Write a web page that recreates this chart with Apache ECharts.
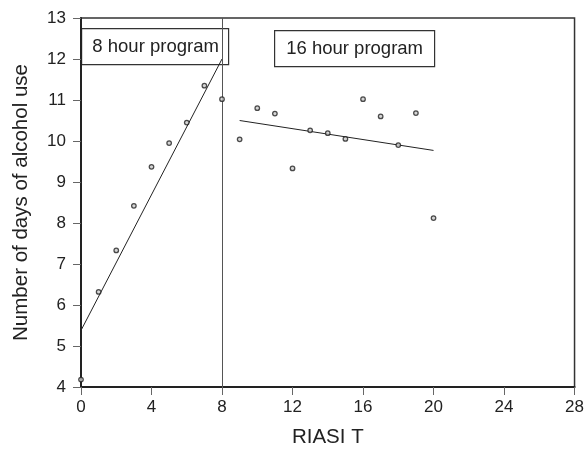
<!DOCTYPE html>
<html>
<head>
<meta charset="utf-8">
<script src="https://cdn.jsdelivr.net/npm/echarts@6/dist/echarts.min.js"></script>
<style>
  html, body { margin: 0; padding: 0; background: #fff; }
  #chart { width: 587px; height: 453px; }
</style>
</head>
<body>
<div id="chart"></div>
<script>
// observed points (x = RIASI T, y = days of alcohol use)
const riasiT = [0, 1, 2, 3, 4, 5, 6, 7, 8, 9, 10, 11, 12, 13, 14, 15, 16, 17, 18, 19, 20]
const alcoholDays = [4.18, 6.32, 7.33, 8.42, 9.37, 9.95, 10.45, 11.35, 11.02, 10.04, 10.8, 10.67, 9.33, 10.26, 10.19, 10.05, 11.02, 10.6, 9.9, 10.68, 8.12]

// fitted segments, endpoints
const fit8 = [[0, 5.38], [8, 12.0]]
const fit16 = [[9, 10.5], [20, 9.77]]
const phaseChange = 8

const xTicks = { min: 0, max: 28, step: 4 }
const yTicks = { min: 4, max: 13, step: 1 }

const chart = echarts.init(document.getElementById('chart'))
const fontFam = 'Liberation Sans, Arial, sans-serif'
const ink = '#222'

chart.setOption({
  animation: false,
  grid: {
    left: 81, right: 9, top: 18, bottom: 60,
    show: true, borderColor: '#333', borderWidth: 1.5
  },
  xAxis: {
    type: 'value',
    min: xTicks.min, max: xTicks.max, interval: xTicks.step,
    name: 'RIASI T',
    nameLocation: 'middle',
    nameGap: 40,
    nameTextStyle: { fontFamily: fontFam, fontSize: 20.5, color: ink },
    axisLine: { lineStyle: { color: ink, width: 2 } },
    axisTick: { length: 8, lineStyle: { color: '#666' } },
    axisLabel: { fontFamily: fontFam, fontSize: 17, color: ink, margin: 12 },
    splitLine: { show: false }
  },
  yAxis: {
    type: 'value',
    min: yTicks.min, max: yTicks.max, interval: yTicks.step,
    name: 'Number of days of alcohol use',
    nameLocation: 'middle',
    nameGap: 49,
    nameTextStyle: { fontFamily: fontFam, fontSize: 20.5, color: ink },
    axisLine: { lineStyle: { color: ink, width: 2 } },
    axisTick: { length: 8, lineStyle: { color: '#666' } },
    axisLabel: { fontFamily: fontFam, fontSize: 17, color: ink, margin: 15 },
    splitLine: { show: false }
  },
  series: [
    {
      type: 'line',
      data: fit8,
      symbol: 'none',
      lineStyle: { color: ink, width: 1 },
      markLine: {
        silent: true,
        symbol: 'none',
        label: { show: false },
        lineStyle: { color: '#555', width: 1, type: 'solid' },
        data: [{ xAxis: phaseChange }]
      }
    },
    {
      type: 'line',
      data: fit16,
      symbol: 'none',
      lineStyle: { color: ink, width: 1 }
    },
    {
      type: 'scatter',
      data: riasiT.map((x, i) => [x, alcoholDays[i]]),
      symbol: 'circle',
      symbolSize: 4.5,
      itemStyle: { color: '#ccc', borderColor: ink, borderWidth: 1.3 },
      z: 5
    }
  ],
  graphic: [
    {
      type: 'group', left: 81, top: 28, z: 100,
      children: [
        { type: 'rect', shape: { x: 0, y: 0, width: 147, height: 36 },
          style: { fill: '#fff', stroke: '#333', lineWidth: 1.2 } },
        { type: 'text', x: 74, y: 18,
          style: { text: '8 hour program', fontFamily: fontFam, fontSize: 18.5, fill: ink, align: 'center', verticalAlign: 'middle' } }
      ]
    },
    {
      type: 'group', left: 274, top: 30, z: 100,
      children: [
        { type: 'rect', shape: { x: 0, y: 0, width: 160, height: 36 },
          style: { fill: '#fff', stroke: '#333', lineWidth: 1.2 } },
        { type: 'text', x: 80, y: 18,
          style: { text: '16 hour program', fontFamily: fontFam, fontSize: 18.5, fill: ink, align: 'center', verticalAlign: 'middle' } }
      ]
    }
  ]
})
</script>
</body>
</html>
